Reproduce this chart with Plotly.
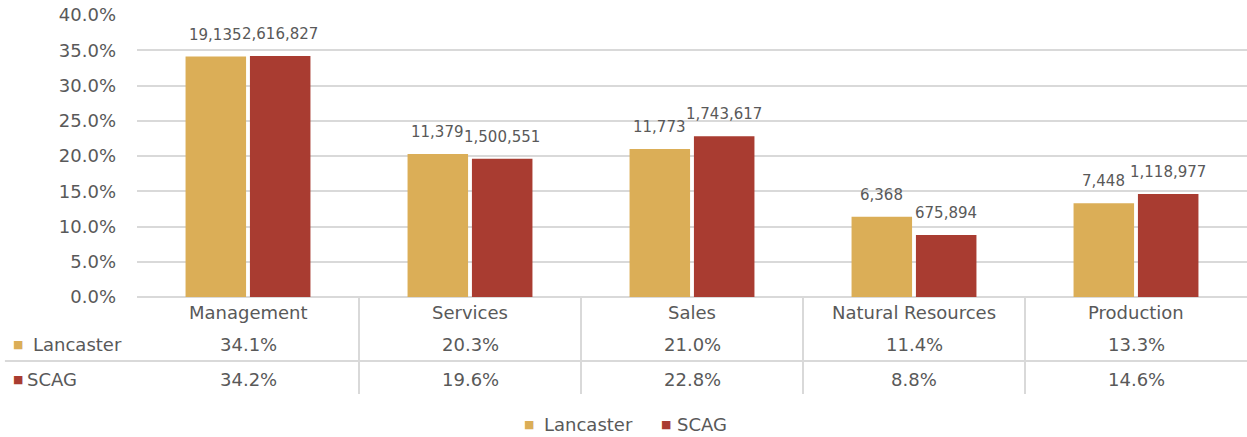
import plotly.graph_objects as go

categories = ["Management", "Services", "Sales", "Natural Resources", "Production"]
lancaster_pct = [34.1, 20.3, 21.0, 11.4, 13.3]
scag_pct = [34.2, 19.6, 22.8, 8.8, 14.6]
lancaster_count = ["19,135", "11,379", "11,773", "6,368", "7,448"]
scag_count = ["2,616,827", "1,500,551", "1,743,617", "675,894", "1,118,977"]
series_names = ["Lancaster", "SCAG"]
y_ticks = [0, 5, 10, 15, 20, 25, 30, 35, 40]

GOLD = "#DBAE57"
RED = "#A93C31"
TXT = "#595959"
GRID = "#D9D9D9"
FONT = "DejaVu Sans"

BARGAP = 0.42
BARGROUPGAP = 0.06

fig = go.Figure()
fig.add_trace(go.Bar(x=categories, y=lancaster_pct, name=series_names[0],
                     marker=dict(color=GOLD, line=dict(width=0)), hoverinfo="skip"))
fig.add_trace(go.Bar(x=categories, y=scag_pct, name=series_names[1],
                     marker=dict(color=RED, line=dict(width=0)), hoverinfo="skip"))

annotations = []
off = (1 - BARGAP) / 4
for i, c in enumerate(categories):
    annotations.append(dict(x=i - off, y=lancaster_pct[i], xref="x", yref="y",
                            text=lancaster_count[i], showarrow=False, yanchor="bottom",
                            yshift=11, font=dict(family=FONT, size=15, color=TXT)))
    annotations.append(dict(x=i + off, y=scag_pct[i], xref="x", yref="y",
                            text=scag_count[i], showarrow=False, yanchor="bottom",
                            yshift=11, font=dict(family=FONT, size=15, color=TXT)))
    # data table
    annotations.append(dict(x=c, y=-0.0567, xref="x", yref="paper", text=c,
                            showarrow=False, yanchor="middle",
                            font=dict(family=FONT, size=18, color=TXT)))
    annotations.append(dict(x=c, y=-0.1667, xref="x", yref="paper",
                            text=f"{lancaster_pct[i]:.1f}%", showarrow=False, yanchor="middle",
                            font=dict(family=FONT, size=18, color=TXT)))
    annotations.append(dict(x=c, y=-0.2908, xref="x", yref="paper",
                            text=f"{scag_pct[i]:.1f}%", showarrow=False, yanchor="middle",
                            font=dict(family=FONT, size=18, color=TXT)))

# row headers of the data table
annotations += [
    dict(x=-0.1135, y=-0.1667, xref="paper", yref="paper", text="■", showarrow=False,
         xanchor="left", yanchor="middle", font=dict(family=FONT, size=11, color=GOLD)),
    dict(x=-0.0955, y=-0.1667, xref="paper", yref="paper", text=series_names[0], showarrow=False,
         xanchor="left", yanchor="middle", font=dict(family=FONT, size=18, color=TXT)),
    dict(x=-0.1135, y=-0.2908, xref="paper", yref="paper", text="■", showarrow=False,
         xanchor="left", yanchor="middle", font=dict(family=FONT, size=11, color=RED)),
    dict(x=-0.1009, y=-0.2908, xref="paper", yref="paper", text=series_names[1], showarrow=False,
         xanchor="left", yanchor="middle", font=dict(family=FONT, size=18, color=TXT)),
]

# legend (bottom)
LEG_Y = -0.4539
annotations += [
    dict(x=0.3468, y=LEG_Y, xref="paper", yref="paper", text="■", showarrow=False,
         xanchor="left", yanchor="middle", font=dict(family=FONT, size=11, color=GOLD)),
    dict(x=0.3649, y=LEG_Y, xref="paper", yref="paper", text=series_names[0], showarrow=False,
         xanchor="left", yanchor="middle", font=dict(family=FONT, size=18, color=TXT)),
    dict(x=0.4703, y=LEG_Y, xref="paper", yref="paper", text="■", showarrow=False,
         xanchor="left", yanchor="middle", font=dict(family=FONT, size=11, color=RED)),
    dict(x=0.4847, y=LEG_Y, xref="paper", yref="paper", text=series_names[1], showarrow=False,
         xanchor="left", yanchor="middle", font=dict(family=FONT, size=18, color=TXT)),
]

shapes = []
for k in range(1, len(categories)):
    shapes.append(dict(type="line", xref="paper", yref="paper", x0=k / len(categories),
                       x1=k / len(categories), y0=0, y1=-0.344,
                       line=dict(color=GRID, width=2)))
shapes.append(dict(type="line", xref="paper", yref="paper", x0=-0.119, x1=1,
                   y0=-0.227, y1=-0.227, line=dict(color=GRID, width=2)))

fig.update_layout(
    template="none",
    width=1247, height=437,
    margin=dict(l=137, r=0, t=15, b=140, autoexpand=False),
    paper_bgcolor="white", plot_bgcolor="white",
    showlegend=False,
    barmode="group", bargap=BARGAP, bargroupgap=BARGROUPGAP,
    font=dict(family=FONT, size=18, color=TXT),
    xaxis=dict(showticklabels=False, ticks="", showgrid=False, zeroline=False,
               showline=False, fixedrange=True, automargin=False),
    yaxis=dict(range=[0, 40], tickvals=y_ticks,
               ticktext=[f"{v:.1f}%" for v in y_ticks],
               showgrid=True, gridcolor=GRID, gridwidth=2, zeroline=True,
               zerolinecolor=GRID, zerolinewidth=2, ticks="", ticklabelstandoff=20,
               showline=False, automargin=False,
               tickfont=dict(family=FONT, size=18, color=TXT), fixedrange=True),
    annotations=annotations,
    shapes=shapes,
)

fig.write_html("out.html", config={"displayModeBar": False},
               post_script="document.body.style.margin='0';document.body.style.overflow='hidden';")
